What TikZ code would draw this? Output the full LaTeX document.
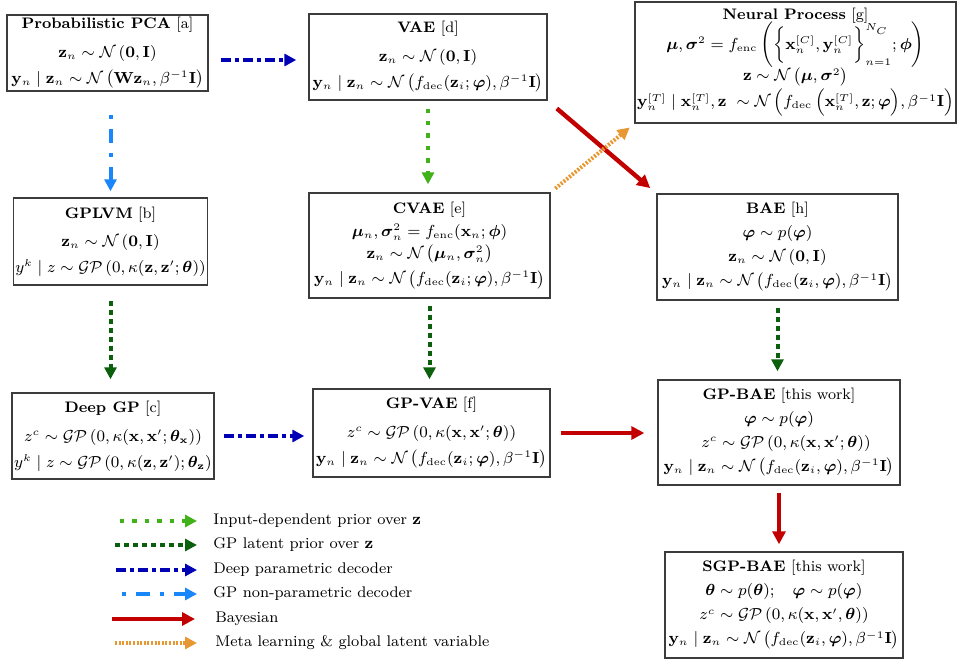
\documentclass[tikz,border=0pt]{standalone}
\usepackage{amsmath,amssymb,bm}
\usetikzlibrary{arrows.meta}
\definecolor{lgreen}{RGB}{65,178,25}
\definecolor{dgreen}{RGB}{12,95,12}
\definecolor{dblue}{RGB}{0,0,180}
\definecolor{lblue}{RGB}{25,135,250}
\definecolor{bred}{RGB}{195,0,0}
\definecolor{morange}{RGB}{232,152,50}
\definecolor{boxgray}{RGB}{60,60,60}
\tikzset{
  box/.style={draw=boxgray, line width=0.7pt, align=center, inner sep=1pt, font=\fontsize{7.6}{9}\selectfont},
  lgtxt/.style={anchor=west, font=\fontsize{7.7}{9}\selectfont, inner sep=0pt},
  inputprior/.style={lgreen, line width=2pt, dash pattern=on 2.2pt off 4pt, -{Triangle[length=6pt,width=6pt]}},
  gpprior/.style={dgreen, line width=2pt, dash pattern=on 2.5pt off 2pt, -{Triangle[length=6pt,width=6pt]}},
  deepdec/.style={dblue, line width=1.8pt, dash pattern=on 5pt off 2pt on 2pt off 2pt, -{Triangle[length=6pt,width=6pt]}},
  gpdec/.style={lblue, line width=2pt, dash pattern=on 2pt off 5pt on 7pt off 5pt, -{Triangle[length=6pt,width=6pt]}},
  bayes/.style={bred, line width=2.2pt, -{Triangle[length=6.5pt,width=6.5pt]}},
  metal/.style={morange, line width=2pt, dash pattern=on 1pt off 0.8pt, -{Triangle[length=6pt,width=6pt]}},
}
\newcommand{\bz}{\mathbf{z}}
\newcommand{\by}{\mathbf{y}}
\newcommand{\bx}{\mathbf{x}}
\newcommand{\NN}{\mathcal{N}}
\newcommand{\GPc}{\mathcal{GP}}
\newcommand{\vphi}{\bm{\varphi}}
\newcommand{\ything}[1]{$\by_n \mid \bz_n \sim \NN\,\bigl(f_{\mathrm{dec}}(\bz_i#1\vphi), \beta^{-1}\mathbf{I}\bigr)$}
\begin{document}
\begin{tikzpicture}[x=0.5pt,y=-0.5pt]
\useasboundingbox (0,0) rectangle (965,662);

\node[box, minimum width=100.5pt, minimum height=38pt] (ppca) at (107.5,53)
 {\textbf{Probabilistic PCA} [a]\\[5.5pt]
  $\bz_n \sim \NN\left(\mathbf{0},\mathbf{I}\right)$\\[4pt]
  $\by_n \mid \bz_n \sim \NN\,\bigl(\mathbf{W}\bz_n, \beta^{-1}\mathbf{I}\bigr)$};

\node[box, minimum width=119pt, minimum height=43pt] (vae) at (428,57)
 {\textbf{VAE} [d]\\[5.5pt]
  $\bz_n \sim \NN\left(\mathbf{0},\mathbf{I}\right)$\\[4pt]
  \ything{;}};

\node[box, minimum width=152.5pt, minimum height=60.5pt] (np) at (795.5,62.5)
 {\textbf{Neural Process} [g]\\[-2pt]
  $\bm{\mu},\bm{\sigma}^2 = f_{\mathrm{enc}}\,\Biggl(\biggl\{\bx_n^{[C]},\by_n^{[C]}\biggr\}_{n=1}^{N_C};\bm{\phi}\Biggr)$\\[-2pt]
  $\bz \sim \NN\,\bigl(\bm{\mu},\bm{\sigma}^2\bigr)$\\[0pt]
  $\by_n^{[T]} \mid \bx_n^{[T]},\bz\ \sim \NN\,\Bigl(f_{\mathrm{dec}}\,\Bigl(\bx_n^{[T]},\bz;\vphi\Bigr),\beta^{-1}\mathbf{I}\Bigr)$};

\node[box, minimum width=95.5pt, minimum height=43.5pt] (gplvm) at (110.5,241.5)
 {\textbf{GPLVM} [b]\\[5pt]
  $\bz_n \sim \NN\left(\mathbf{0},\mathbf{I}\right)$\\[4pt]
  $y^k \mid z \sim \GPc\left(0,\kappa(\bz,\bz';\bm{\theta})\right)$};

\node[box, minimum width=120.5pt, minimum height=52.5pt] (cvae) at (429.5,245.5)
 {\textbf{CVAE} [e]\\[2.5pt]
  $\bm{\mu}_n,\bm{\sigma}_n^2 = f_{\mathrm{enc}}(\bx_n;\bm{\phi})$\\[2pt]
  $\bz_n \sim \NN\,\bigl(\bm{\mu}_n,\bm{\sigma}_n^2\bigr)$\\[2pt]
  \ything{;}};

\node[box, minimum width=120.5pt, minimum height=53pt] (bae) at (777.5,247)
 {\textbf{BAE} [h]\\[3pt]
  $\vphi \sim p(\vphi)$\\[3pt]
  $\bz_n \sim \NN\left(\mathbf{0},\mathbf{I}\right)$\\[3pt]
  \ything{,}};

\node[box, minimum width=100pt, minimum height=43pt] (deepgp) at (113,436)
 {\textbf{Deep GP} [c]\\[5.5pt]
  $z^c \sim \GPc\left(0,\kappa(\bx,\bx';\bm{\theta}_{\bx})\right)$\\[4pt]
  $y^k \mid z \sim \GPc\left(0,\kappa(\bz,\bz');\bm{\theta}_{\bz}\right)$};

\node[box, minimum width=118.5pt, minimum height=44pt] (gpvae) at (431.5,433)
 {\textbf{GP-VAE} [f]\\[5.5pt]
  $z^c \sim \GPc\left(0,\kappa(\bx,\bx';\bm{\theta})\right)$\\[4pt]
  \ything{;}};

\node[box, minimum width=121pt, minimum height=52.5pt] (gpbae) at (779,432.5)
 {\textbf{GP-BAE} [this work]\\[3pt]
  $\vphi \sim p(\vphi)$\\[3pt]
  \hspace*{7pt}$z^c \sim \GPc\left(0,\kappa(\bx,\bx';\bm{\theta})\right)$\\[3pt]
  \ything{,}};

\node[box, minimum width=119pt, minimum height=53pt] (sgpbae) at (784,605)
 {\textbf{SGP-BAE} [this work]\\[3pt]
  $\bm{\theta} \sim p(\bm{\theta});\quad \vphi \sim p(\vphi)$\\[3pt]
  $z^c \sim \GPc\left(0,\kappa(\bx,\bx',\bm{\theta})\right)$\\[3pt]
  \ything{,}};

% connectors
\draw[deepdec, shorten <=6pt, shorten >=6pt] ([yshift=-3.5pt]ppca.east) -- ([yshift=-1.5pt]vae.west);
\draw[gpdec, shorten <=11.5pt, shorten >=3pt] (ppca.south -| gplvm.north) -- (gplvm.north);
\draw[gpprior, shorten <=7.5pt, shorten >=6.5pt] (gplvm.south) -- (gplvm.south |- deepgp.north);
\draw[inputprior, shorten <=4pt, shorten >=4pt] (vae.south) -- (vae.south |- cvae.north);
\draw[gpprior, shorten <=3.5pt, shorten >=4.5pt] (cvae.south) -- (cvae.south |- gpvae.north);
\draw[bayes, shorten <=6pt, shorten >=4pt] (vae.south east) -- (bae.north west);
\draw[metal, shorten <=3pt, shorten >=3pt] (cvae.north east) -- (np.south west);
\draw[gpprior, shorten <=3.5pt, shorten >=4pt] (bae.south) -- (bae.south |- gpbae.north);
\draw[deepdec, shorten <=4.5pt, shorten >=4pt] (deepgp.east) -- (deepgp.east -| gpvae.west);
\draw[bayes, shorten <=5pt, shorten >=6.5pt] (gpvae.east) -- (gpvae.east -| gpbae.west);
\draw[bayes, shorten <=3.5pt, shorten >=3.5pt] (gpbae.south) -- (gpbae.south |- sgpbae.north);

% legend
\coordinate (l1a) at (120,521); \coordinate (l1b) at (197,521);
\coordinate (l2a) at (115,545); \coordinate (l2b) at (197,545);
\coordinate (l3a) at (116,570); \coordinate (l3b) at (197,570);
\coordinate (l4a) at (122,594); \coordinate (l4b) at (197,594);
\coordinate (l5a) at (112,619); \coordinate (l5b) at (195,619);
\coordinate (l6a) at (115,643); \coordinate (l6b) at (197,643);
\draw[inputprior] (l1a) -- (l1b);
\draw[gpprior] (l2a) -- (l2b);
\draw[deepdec] (l3a) -- (l3b);
\draw[gpdec] (l4a) -- (l4b);
\draw[bayes] (l5a) -- (l5b);
\draw[metal] (l6a) -- (l6b);
\node[lgtxt] (t1) at (213,521) {Input-dependent prior over $\bz$};
\node[lgtxt] (t2) at (213,545) {GP latent prior over $\bz$};
\node[lgtxt] (t3) at (213,570) {Deep parametric decoder};
\node[lgtxt] (t4) at (213,594) {GP non-parametric decoder};
\node[lgtxt] (t5) at (215,619) {Bayesian};
\node[lgtxt] (t6) at (215,643) {Meta learning \& global latent variable};
\end{tikzpicture}
\end{document}
